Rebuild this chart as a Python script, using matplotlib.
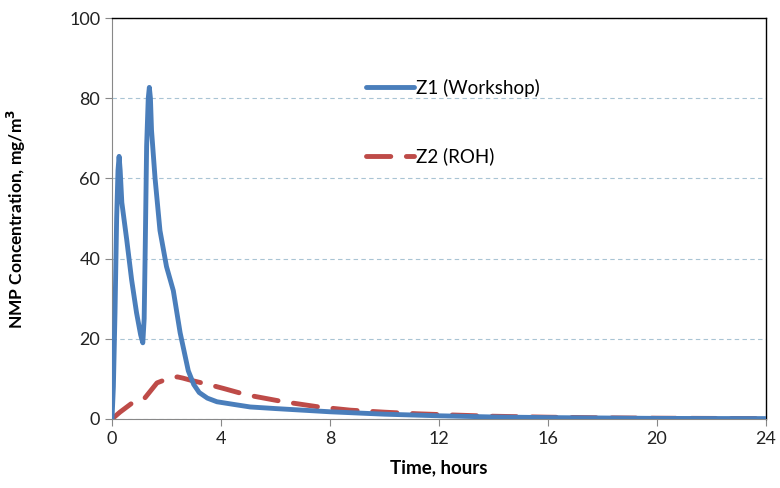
import numpy as np
import matplotlib.pyplot as plt

plt.rcParams['font.family'] = ['Lato', 'DejaVu Sans']

# Z1 (Workshop)
z1_time = [0, 0.05, 0.11, 0.17, 0.22, 0.26, 0.3, 0.36, 0.54, 0.72, 0.9, 1.05, 1.13,
           1.18, 1.22, 1.27, 1.33, 1.37, 1.41, 1.45, 1.58, 1.76, 2.0, 2.25, 2.5,
           2.8, 3.0, 3.2, 3.5, 3.85, 4.5, 5.07, 6, 7, 8, 9, 10, 11, 12, 14, 16,
           18, 20, 22, 24]
z1_conc = [0, 8, 26.5, 50, 62, 65.5, 62, 54, 44.7, 34.7, 26.5, 21, 19,
           25, 43, 68, 80, 82.7, 80, 72, 60, 47, 38, 32, 21.5,
           12, 8.6, 6.6, 5.2, 4.3, 3.6, 3.0, 2.6, 2.2, 1.8, 1.5, 1.2, 1.0, 0.8, 0.5, 0.35,
           0.25, 0.15, 0.12, 0.1]

# Z2 (ROH)
z2_time = [0, 0.29, 0.78, 1.2, 1.65, 2.1, 2.4, 2.6, 2.87, 3.6, 4.1, 4.95, 6.3,
           7.6, 8.75, 10, 11.2, 12.5, 13.9, 16, 18, 20, 22, 24]
z2_conc = [0, 1.7, 4.2, 5.2, 9, 10.2, 10.5, 10.2, 9.7, 8.5, 7.6, 6, 4.3,
           3, 2.2, 1.7, 1.3, 1.0, 0.7, 0.45, 0.3, 0.2, 0.15, 0.1]

x_ticks = [0, 4, 8, 12, 16, 20, 24]
y_ticks = [0, 20, 40, 60, 80, 100]

fig = plt.figure(figsize=(7.8, 4.88), dpi=100)
ax = fig.add_axes([0.1436, 0.1414, 0.8385, 0.8217])

ax.plot(z1_time, z1_conc, color='#4A7EBB', lw=3.5, solid_joinstyle='round',
        solid_capstyle='round', label='Z1 (Workshop)', zorder=3)
ax.plot(z2_time, z2_conc, color='#BE4B48', lw=3.5, dashes=(5.0, 3.2),
        dash_capstyle='round', label='Z2 (ROH)', zorder=2)

ax.set_xlim(0, 24)
ax.set_ylim(0, 100)
ax.set_xticks(x_ticks)
ax.set_yticks(y_ticks)
ax.grid(axis='y', color='#A9C4D4', ls=(0, (4, 3)), lw=0.8)
ax.set_axisbelow(True)

for s in ['left', 'bottom']:
    ax.spines[s].set_color('#888888')
for s in ['top', 'right']:
    ax.spines[s].set_color('black')
    ax.spines[s].set_linewidth(1.0)
ax.tick_params(colors='#888888', labelcolor='#222222', labelsize=13, length=5)

ax.set_xlabel('Time, hours', fontsize=13.5, fontweight='bold')
ax.xaxis.set_label_coords(0.5, -0.1)
ax.set_ylabel('NMP Concentration, mg/m$^\\mathbf{3}$', fontsize=12.5,
              fontweight='bold')
ax.yaxis.set_label_coords(-0.128, 0.5)

leg = ax.legend(loc='upper left', bbox_to_anchor=(0.362, 0.89), frameon=False,
                fontsize=13.5, handlelength=2.6, handletextpad=0.1, labelspacing=2.7)

fig.savefig('out.png', dpi=100)
